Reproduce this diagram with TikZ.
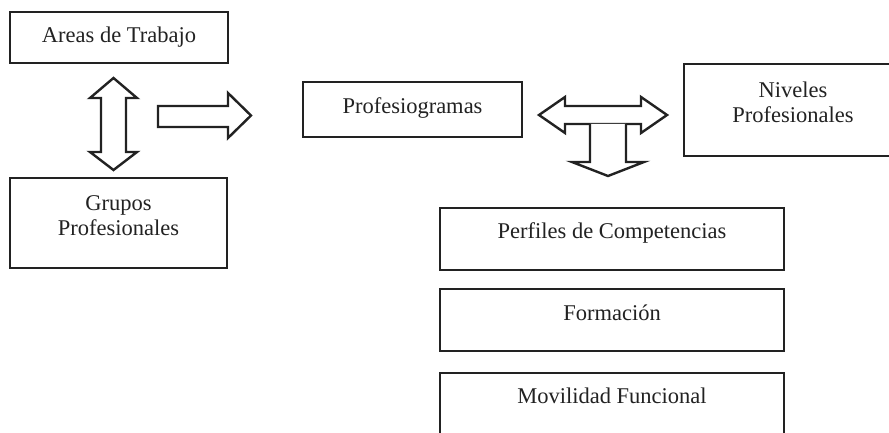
\documentclass[tikz,border=0pt]{standalone}
\usepackage{fontspec}
\setmainfont{Liberation Serif}
\definecolor{ink}{HTML}{222222}
\begin{document}
\begin{tikzpicture}[x=1pt,y=-1pt,
  box/.style={draw=ink, line width=2.2pt, rectangle, inner sep=0pt, text=ink,
    font=\fontsize{22.5}{25}\selectfont, text height=15.5pt},
  blockarrow/.style={draw=ink, line width=2.4pt, fill=white, line join=miter, miter limit=10}]
\useasboundingbox (0,0) rectangle (889,433);
\clip (0,0) rectangle (889,433);
\fill[white] (0,0) rectangle (889,433);

\node[box, minimum width=218pt, minimum height=51pt, text depth=4.5pt] (areas) at (119,37.5) {Areas de Trabajo};
\node[box, minimum width=217pt, minimum height=90pt, text height=40pt, text depth=16pt] (grupos) at (118.5,223)
  {\begin{tabular}[b]{@{}c@{}}Grupos\\Profesionales\end{tabular}};
\node[box, minimum width=219pt, minimum height=55pt, text depth=7.9pt] (prof) at (412.5,109.5) {Profesiogramas};
\node[box, minimum width=218pt, minimum height=92pt, text height=40pt, text depth=15.4pt] (niveles) at (793,110)
  {\begin{tabular}[b]{@{}c@{}}Niveles\\Profesionales\end{tabular}};
\node[box, minimum width=344pt, minimum height=62pt, text depth=17.5pt] (perfiles) at (612,239) {Perfiles de Competencias};
\node[box, minimum width=344pt, minimum height=62pt, text depth=14.5pt] (formacion) at (612,320) {Formación};
\node[box, minimum width=344pt, minimum height=62pt, text depth=16.9pt] (movilidad) at (612,404) {Movilidad Funcional};

% vertical double arrow between Areas de Trabajo and Grupos Profesionales
\draw[blockarrow] (113.5,78) -- (137,98) -- (126,98) -- (126,152) -- (137,152) -- (113.5,170)
  -- (90,152) -- (101,152) -- (101,98) -- (90,98) -- cycle;
% right arrow towards Profesiogramas
\draw[blockarrow] (158,106) -- (228,106) -- (228,93) -- (251,115.5) -- (228,138) -- (228,127) -- (158,127) -- cycle;
% horizontal double arrow between Profesiogramas and Niveles Profesionales
\draw[blockarrow] (539,115) -- (565,97) -- (565,106) -- (641,106) -- (641,97) -- (667,115)
  -- (641,133) -- (641,124) -- (565,124) -- (565,133) -- cycle;
% downward arrow
\draw[blockarrow] (590,124) -- (590,162) -- (572,162) -- (608,176) -- (644,162) -- (626,162) -- (626,124);
\end{tikzpicture}
\end{document}
